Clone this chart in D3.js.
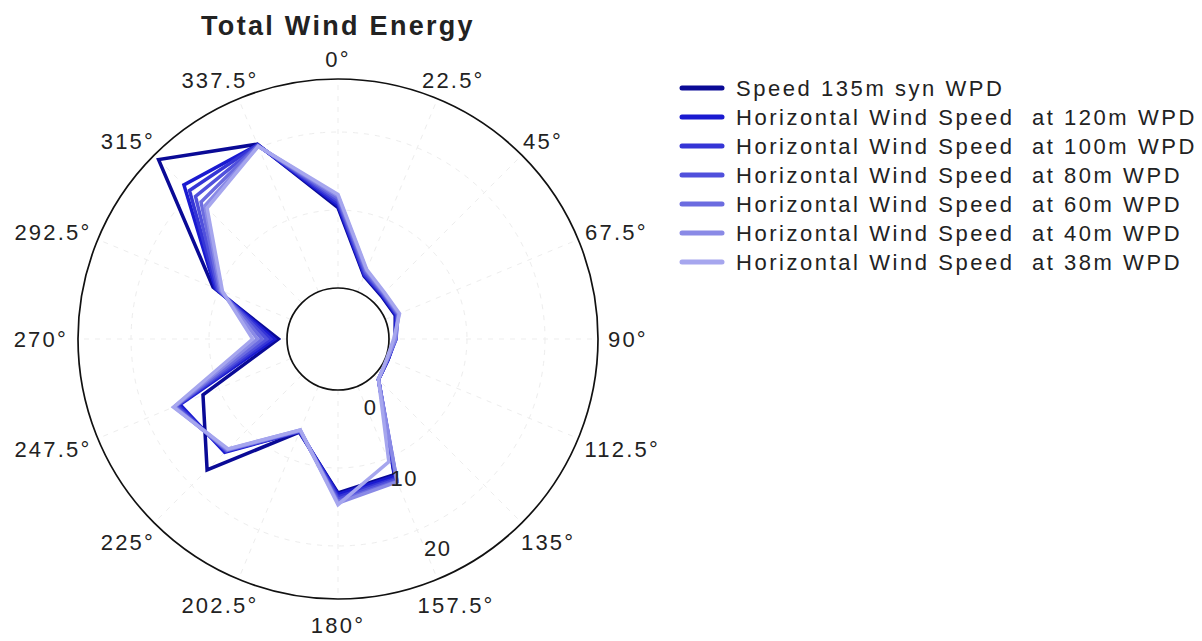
<!DOCTYPE html>
<html>
<head>
<meta charset="utf-8">
<script src="https://cdn.jsdelivr.net/npm/d3@7"></script>
<style>
  body { margin: 0; background: #fff; }
  text { font-family: "Liberation Sans", Arial, sans-serif; fill: #222; white-space: pre; }
</style>
</head>
<body>
<div id="viz"></div>
<script>
// directions (deg, clockwise from north)
var directions = [0, 22.5, 45, 67.5, 90, 112.5, 135, 157.5, 180, 202.5, 225, 247.5, 270, 292.5, 315, 337.5];

var seriesNames = [
  'Speed 135m syn WPD',
  'Horizontal Wind Speed  at 120m WPD',
  'Horizontal Wind Speed  at 100m WPD',
  'Horizontal Wind Speed  at 80m WPD',
  'Horizontal Wind Speed  at 60m WPD',
  'Horizontal Wind Speed  at 40m WPD',
  'Horizontal Wind Speed  at 38m WPD'
];

var seriesColors = ['#0a0a96', '#1a1ad0', '#3535d6', '#5050dc', '#6c6ce0', '#8a8ae6', '#a6a6ee'];

// values per direction, one array per series
var s135 = [10.3, 2.2, 1.3, 1.4, 0.8, 0.4, 0.8, 12.3, 13.2, 6.4, 17.2, 12.2, 1.1, 10.8, 26.0, 20.5];
var s120 = [10.6, 2.3, 1.4, 1.5, 0.8, 0.4, 0.8, 12.5, 13.4, 6.3, 14.0, 15.4, 1.6, 10.5, 21.4, 20.4];
var s100 = [10.9, 2.4, 1.5, 1.6, 0.9, 0.4, 0.8, 12.8, 13.7, 6.3, 13.8, 15.7, 2.1, 10.3, 20.4, 20.4];
var s80  = [11.2, 2.6, 1.6, 1.7, 0.9, 0.3, 0.8, 13.0, 14.0, 6.2, 13.7, 15.9, 2.6, 10.1, 19.3, 20.3];
var s60  = [11.5, 2.8, 1.7, 1.8, 0.9, 0.3, 0.8, 13.2, 14.3, 6.2, 13.6, 16.1, 3.2, 9.9, 18.3, 20.3];
var s40  = [11.8, 3.0, 1.8, 1.9, 0.8, 0.3, 0.8, 13.3, 14.5, 6.1, 13.5, 16.2, 3.8, 9.7, 17.6, 20.2];
var s38  = [12.0, 3.1, 1.9, 2.0, 0.6, 0.2, 0.8, 10.5, 14.7, 6.1, 13.4, 16.3, 4.4, 9.5, 17.2, 20.2];
var seriesValues = [s135, s120, s100, s80, s60, s40, s38];

var radialTicks = [0, 10, 20];
var radialMax = 26.8;

var width = 1202, height = 641;
var cx = 338, cy = 339, outerR = 260, innerR = 51;

var svg = d3.select('#viz').append('svg')
  .attr('width', width)
  .attr('height', height);

var r = d3.scaleLinear().domain([0, radialMax]).range([innerR, outerR]);
var rad = function(a){ return a * Math.PI / 180; };

var g = svg.append('g').attr('transform', 'translate(' + cx + ',' + cy + ')');

// faint grid
g.append('g').selectAll('line')
  .data(directions)
  .enter().append('line')
  .attr('x1', function(d){ return innerR * Math.sin(rad(d)); })
  .attr('y1', function(d){ return -innerR * Math.cos(rad(d)); })
  .attr('x2', function(d){ return outerR * Math.sin(rad(d)); })
  .attr('y2', function(d){ return -outerR * Math.cos(rad(d)); })
  .attr('stroke', '#ededed')
  .attr('stroke-dasharray', '5,6');

g.append('g').selectAll('circle')
  .data(radialTicks.slice(1))
  .enter().append('circle')
  .attr('r', function(d){ return r(d); })
  .attr('fill', 'none')
  .attr('stroke', '#ededed')
  .attr('stroke-dasharray', '5,6');

// outer / inner rings
g.append('circle').attr('r', outerR).attr('fill', 'none').attr('stroke', '#111').attr('stroke-width', 1.7);
g.append('circle').attr('r', innerR).attr('fill', '#fff').attr('stroke', '#111').attr('stroke-width', 1.7);

// series
var line = d3.lineRadial()
  .angle(function(d){ return rad(d.a); })
  .radius(function(d){ return r(d.v); })
  .curve(d3.curveLinearClosed);

seriesValues.forEach(function(vals, i){
  var pts = directions.map(function(a, j){ return {a: a, v: vals[j]}; });
  g.append('path')
    .attr('d', line(pts))
    .attr('fill', 'none')
    .attr('stroke', seriesColors[i])
    .attr('stroke-width', 3.5)
    .attr('stroke-linejoin', 'miter');
});

// radial tick labels
var tickBearing = 154.5;
g.append('g').selectAll('text')
  .data(radialTicks)
  .enter().append('text')
  .attr('x', function(d){ return (r(d) + 25) * Math.sin(rad(tickBearing)); })
  .attr('y', function(d){ return -(r(d) + 25) * Math.cos(rad(tickBearing)); })
  .attr('dy', '0.35em')
  .attr('text-anchor', 'middle')
  .style('font-size', '22px')
  .style('letter-spacing', '1.5px')
  .text(function(d){ return d; });

// angle labels
var angLabels = g.append('g').selectAll('text')
  .data(directions)
  .enter().append('text')
  .attr('text-anchor', 'middle')
  .attr('dy', '0.35em')
  .style('font-size', '22px')
  .style('letter-spacing', '2.2px')
  .text(function(d){ return d + '°'; });

angLabels.each(function(d){
  var w = this.getComputedTextLength();
  var s = Math.sin(rad(d)), c = Math.cos(rad(d));
  var x = (outerR + 10) * s + (w / 2) * s;
  var y = -(outerR + 10) * c - (c > 0 ? 10 : 18) * c;
  if (d === 180) y = 286; // keep inside the frame
  d3.select(this).attr('x', x).attr('y', y);
});

// title
svg.append('text')
  .attr('x', cx)
  .attr('y', 35)
  .attr('text-anchor', 'middle')
  .style('font-size', '27px')
  .style('font-weight', 'bold')
  .style('letter-spacing', '2.3px')
  .text('Total Wind Energy');

// legend
var legend = svg.append('g').attr('transform', 'translate(680,88)');
var rows = legend.selectAll('g')
  .data(seriesNames)
  .enter().append('g')
  .attr('transform', function(d, i){ return 'translate(0,' + (i * 29) + ')'; });

rows.append('line')
  .attr('x1', 2).attr('x2', 42)
  .attr('y1', 0).attr('y2', 0)
  .attr('stroke', function(d, i){ return seriesColors[i]; })
  .attr('stroke-width', 5)
  .attr('stroke-linecap', 'round');

rows.append('text')
  .attr('x', 56)
  .attr('y', 0)
  .attr('dy', '0.35em')
  .style('font-size', '22px')
  .style('letter-spacing', '2.55px')
  .text(function(d){ return d; });
</script>
</body>
</html>
